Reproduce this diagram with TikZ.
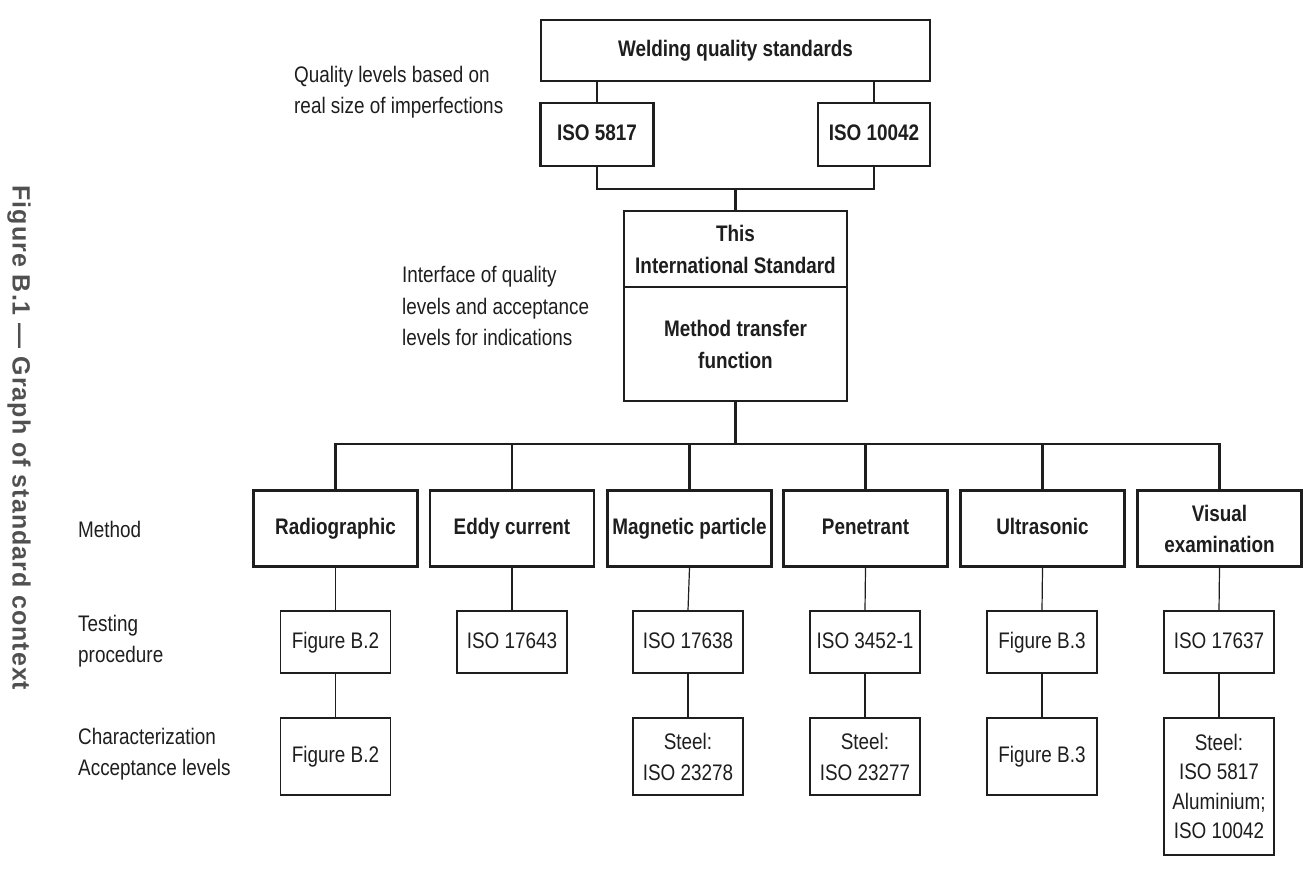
\documentclass[tikz,border=0pt]{standalone}
\usepackage{fontspec}
\setmainfont{Liberation Sans}[FakeStretch=0.84]
\newfontfamily\capfont{Liberation Sans}[LetterSpace=4]
\definecolor{ink}{HTML}{1E1E1E}
\definecolor{capgray}{HTML}{505050}
\tikzset{
  every node/.style={inner sep=0pt, text=ink, font=\fontsize{22.5}{31.5}\selectfont},
  thickbox/.style={draw=ink, line width=2.8pt, align=center, font=\fontsize{22.5}{31.5}\selectfont\bfseries,
    execute at begin node=\strut, execute at end node=\strut},
  thinbox/.style={draw=ink, line width=1.4pt, align=center,
    execute at begin node=\strut, execute at end node=\strut},
  boldtext/.style={align=center, font=\fontsize{22.5}{31.5}\selectfont\bfseries},
  plaintext/.style={align=center},
  thickline/.style={draw=ink, line width=2.6pt},
  thinline/.style={draw=ink, line width=1.2pt},
  sidelabel/.style={anchor=west, align=left},
}
\begin{document}
\begin{tikzpicture}[x=1pt, y=-1pt]
\useasboundingbox (0,0) rectangle (1303,869);
\fill[white] (0,0) rectangle (1303,869);

% caption
\node[rotate=-90, text=capgray, font=\capfont\fontsize{25}{30}\selectfont\bfseries] (cap) at (19,438) {Figure B.1 — Graph of standard context};

% top part
\node[thickbox, minimum width=389pt, minimum height=61pt] (wqs) at (735.5,50.5) {Welding quality standards};
\node[thickbox, minimum width=113pt, minimum height=63pt] (iso5817) at (597,134.5) {ISO 5817};
\node[thickbox, minimum width=112pt, minimum height=63pt] (iso10042) at (874,134.5) {ISO 10042};
\node[thickbox, minimum width=223pt, minimum height=76pt] (tis) at (735.5,249) {};
\node[boldtext] (tis-t) at ([yshift=-0.5pt]tis.center) {This\\International Standard};
\node[thickbox, minimum width=223pt, minimum height=114pt] (mtf) at (735.5,344) {};
\node[boldtext] (mtf-t) at ([yshift=-0.5pt]mtf.center) {Method transfer\\function};

\coordinate (j1) at (597,189);
\coordinate (j2) at (874,189);
\coordinate (j0) at (735.5,189);
\draw[thickline] (wqs.south -| iso5817) -- (iso5817.north);
\draw[thickline] (wqs.south -| iso10042) -- (iso10042.north);
\draw[thickline] (iso5817.south) -- (j1) -- (j2) -- (iso10042.south);
\draw[thickline] (j0) -- (tis.north);

% side texts
\node[sidelabel] (qlt) at (294,92) {Quality levels based on\\real size of imperfections};
\node[sidelabel] (ifc) at (402,306) {Interface of quality\\levels and acceptance\\levels for indications};

% methods
\tikzset{mbox/.style={thickbox, minimum width=164pt, minimum height=76pt}}
\node[mbox] (m1) at (335.5,528.5) {Radiographic};
\node[mbox] (m2) at (512,528.5) {Eddy current};
\node[mbox] (m3) at (689.5,528.5) {Magnetic particle};
\node[mbox] (m4) at (865.5,528.5) {Penetrant};
\node[mbox] (m5) at (1042.5,528.5) {Ultrasonic};
\node[mbox] (m6) at (1219.5,528.5) {};
\node[boldtext] (m6-t) at ([yshift=-0.5pt]m6.center) {Visual\\examination};

\coordinate (bus) at (735.5,444);
\draw[thickline] (mtf.south) -- (bus);
\draw[thickline] (m1.north) -- (m1.north |- bus) -- (m6.north |- bus) -- (m6.north);
\foreach \m in {m2,m3,m4,m5}{\draw[thickline] (\m.north |- bus) -- (\m.north);}

% testing procedure
\tikzset{tbox/.style={thinbox, minimum width=110pt, minimum height=62pt}}
\node[tbox] (t1) at (335.5,642) {Figure B.2};
\node[tbox] (t2) at (512,642) {ISO 17643};
\node[tbox] (t3) at (688,642) {ISO 17638};
\node[tbox] (t4) at (865,642) {ISO 3452-1};
\node[tbox] (t5) at (1042,642) {Figure B.3};
\node[tbox] (t6) at (1219,642) {ISO 17637};

% characterization
\tikzset{cbox/.style={thinbox, minimum width=110pt, minimum height=77pt}}
\node[cbox] (c1) at (335.5,756.5) {Figure B.2};
\node[cbox] (c3) at (688,756.5) {};
\node[plaintext] (c3-t) at ([yshift=-0.5pt]c3.center) {Steel:\\ISO 23278};
\node[cbox] (c4) at (865,756.5) {};
\node[plaintext] (c4-t) at ([yshift=-0.5pt]c4.center) {Steel:\\ISO 23277};
\node[cbox] (c5) at (1042,756.5) {Figure B.3};
\node[thinbox, minimum width=110pt, minimum height=137pt] (c6) at (1219,786.5) {};
\node[plaintext, font=\fontsize{22.5}{29.5}\selectfont] (c6-t) at (c6.center) {Steel:\\ISO 5817\\Aluminium;\\ISO 10042};

\foreach \i in {1,...,6}{\draw[thinline] (m\i.south) -- (t\i.north);}
\foreach \i in {1,3,4,5,6}{\draw[thinline] (t\i.south) -- (c\i.north);}

% row labels
\node[sidelabel] (lm) at (78,529) {Method};
\node[sidelabel] (lt) at (78,641) {Testing\\procedure};
\node[sidelabel] (lc) at (78,754) {Characterization\\Acceptance levels};
\end{tikzpicture}
\end{document}
